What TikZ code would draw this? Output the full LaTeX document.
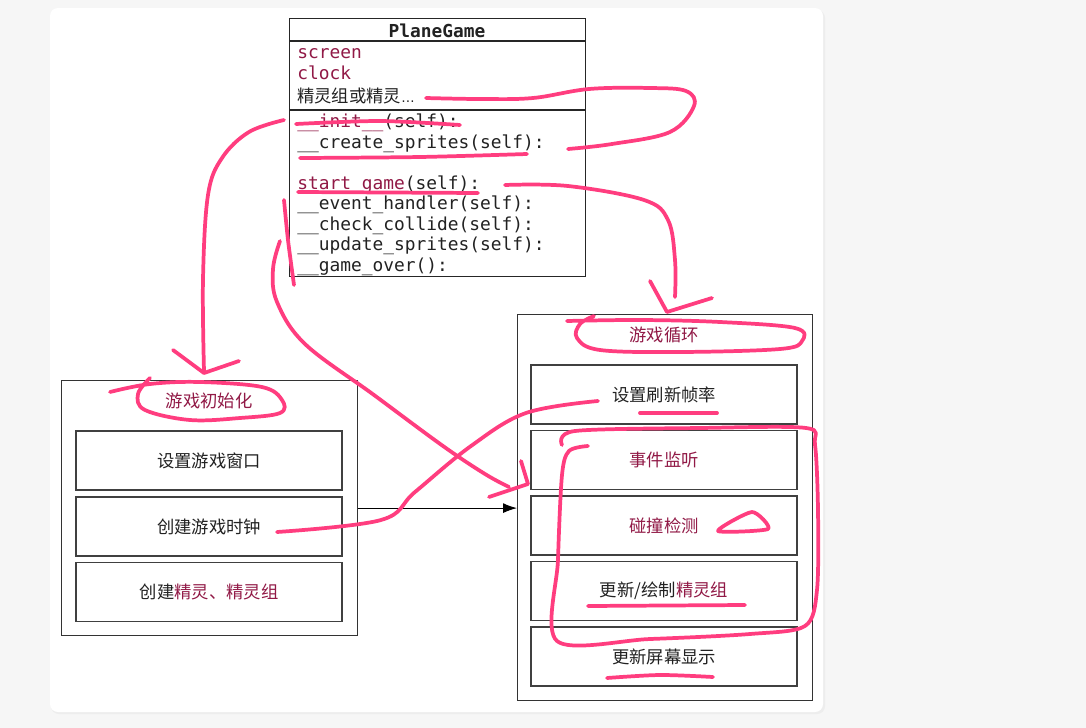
\documentclass[tikz,border=0pt]{standalone}
\usepackage{fontspec}
\setmainfont{Noto Sans CJK SC}
\setmonofont{DejaVu Sans Mono}
\newfontfamily\latinsans{DejaVu Sans}
\usepackage{xcolor}
\usetikzlibrary{positioning, arrows.meta}

\definecolor{hilite}{RGB}{255,61,127}
\definecolor{keyred}{RGB}{145,25,70}
\definecolor{pagegrey}{RGB}{246,246,246}
\definecolor{txt}{RGB}{34,34,34}

\tikzset{
  outerbox/.style={draw=black!80, line width=0.9pt, minimum width=222pt, anchor=north west, inner sep=0pt},
  stepbox/.style={draw=black!75, line width=1.1pt, minimum width=199.5pt, minimum height=44.25pt,
                  font=\fontsize{13}{15}\selectfont, text=txt},
  grouptitle/.style={font=\fontsize{13}{15}\selectfont, text=keyred},
  member/.style={anchor=base west, inner sep=0pt, font=\ttfamily\fontsize{13.4}{15}\selectfont, text=txt},
  ink/.style={draw=hilite, line width=2.8pt, line cap=round, line join=round},
}

\begin{document}
\begin{tikzpicture}[x=0.75pt, y=-0.75pt]
  \useasboundingbox (0,0) rectangle (1086,728);
  % page and card
  \fill[pagegrey] (0,0) rectangle (1086,728);
  \fill[black!7, rounded corners=6pt] (51,10) rectangle (825,714);
  \fill[white, rounded corners=6pt] (50,8) rectangle (823,712);

  % class box
  \node[draw=black!85, line width=1pt, minimum width=222pt, minimum height=193.5pt,
        anchor=north west, inner sep=0pt] (planegame) at (289,18) {};
  \draw[black!85, line width=1pt] (289,41) -- (585,41);
  \draw[black!85, line width=1.2pt] (289,110) -- (585,110);
  \node[anchor=base, inner sep=0pt, text=txt, font=\ttfamily\bfseries\fontsize{13.4}{15}\selectfont]
    (classname) at (437,37) {PlaneGame};
  \node[member, text=keyred] (screen) at (297,58) {screen};
  \node[member, text=keyred] (clock) at (297,79) {clock};
  \node[member, font=\fontsize{13}{15}\selectfont] (groups) at (297,102) {精灵组或精灵{\latinsans\fontsize{10}{12}\selectfont …}};
  \node[member] (initm) at (297,127) {\textcolor{keyred}{\_\_init\_\_}(self):};
  \node[member] (createm) at (297,148) {\_\_create\_sprites(self):};
  \node[member] (startm) at (297,189) {\textcolor{keyred}{start\_game}(self):};
  \node[member] (eventm) at (297,209.5) {\_\_event\_handler(self):};
  \node[member] (checkm) at (297,230) {\_\_check\_collide(self):};
  \node[member] (updatem) at (297,250.5) {\_\_update\_sprites(self):};
  \node[member] (overm) at (297,271) {\_\_game\_over():};

  % init group
  \node[outerbox, minimum height=191.25pt] (initgroup) at (61,380) {};
  \node[grouptitle] (inittitle) at (209,401) {游戏初始化};
  \node[stepbox] (setwindow) at (209,460.5) {设置游戏窗口};
  \node[stepbox] (setclock) at (209,526.5) {创建游戏时钟};
  \node[stepbox] (setsprites) at (209,592) {创建\textcolor{keyred}{精灵、精灵组}};

  % loop group
  \node[outerbox, minimum width=221.25pt, minimum height=289.5pt] (loopgroup) at (517,314) {};
  \node[grouptitle] (looptitle) at (664,335) {游戏循环};
  \node[stepbox] (framerate) at (664,394.5) {设置刷新帧率};
  \node[stepbox, text=keyred] (events) at (664,460) {事件监听};
  \node[stepbox, text=keyred] (collide) at (664,525.5) {碰撞检测};
  \node[stepbox] (redraw) at (664,591) {更新/绘制\textcolor{keyred}{精灵组}};
  \node[stepbox] (refresh) at (664,656.5) {更新屏幕显示};

  \draw[-{Latex[length=10.5pt, width=7.5pt]}, line width=0.8pt] (initgroup.east) -- (initgroup.east -| loopgroup.west);

  % hand-drawn marks
  \draw[ink] plot[smooth, tension=0.6] coordinates {(426,98) (480,99) (533,98) (589,89) (650,88) (686,91) (694,106) (670,132) (612,144) (568,149)};
  \draw[ink] plot[smooth] coordinates {(296,124) (380,121) (460,125)};
  \draw[ink] plot[smooth] coordinates {(300,158) (420,157) (527,154)};
  \draw[ink] (298,192) -- (478,193);
  % init -> setup
  \draw[ink] plot[smooth, tension=0.6] coordinates {(284,120) (249,132) (222,158) (208,195) (203,279) (204,371)};
  \draw[ink] (173,350) -- (204,373) -- (239,361);
  % start_game -> loop
  \draw[ink] plot[smooth, tension=0.6] coordinates {(505,185) (568,186) (644,200) (668,220) (675,260) (675,297)};
  \draw[ink] (650,281) -- (667,312) -- (712,298);
  % rings round the titles
  \draw[ink] plot[smooth, tension=0.6] coordinates {(567,321) (640,320) (720,322) (795,328) (802,341) (780,349) (680,352) (600,350) (577,338) (580,324) (594,316)};
  \draw[ink] plot[smooth, tension=0.6] coordinates {(110,392) (150,384) (200,382) (262,387) (282,400) (280,413) (240,418) (190,420) (145,410) (138,394) (150,378)};
  % methods -> events
  \draw[ink] plot[smooth] coordinates {(284,200) (288,240) (294,285)};
  \draw[ink] plot[smooth, tension=0.6] coordinates {(280,241) (273,269) (277,302) (305,344) (374,395) (443,446) (485,474) (509,487)};
  \draw[ink] (489,497) -- (528,484) -- (521,461);
  % clock -> frame rate
  \draw[ink] plot[smooth, tension=0.6] coordinates {(277,532) (381,520) (415,492) (471,446) (526,413) (598,401)};
  \draw[ink] (640,413) -- (717,413);
  % loop round the repeated steps
  \draw[ink] plot[smooth, tension=0.5] coordinates {(588,446) (569,451) (562,475) (558,560) (557,641) (650,639) (750,634) (805,626) (817,590) (818,510) (815,445) (806,428) (700,428) (575,431) (562,445)};
  \draw[ink] plot[smooth cycle, tension=0.4] coordinates {(718,531) (752,512) (768,529)};
  \draw[ink] (588,606) -- (745,605);
  \draw[ink] plot[smooth] coordinates {(607,678) (660,675) (713,677)};
\end{tikzpicture}
\end{document}
